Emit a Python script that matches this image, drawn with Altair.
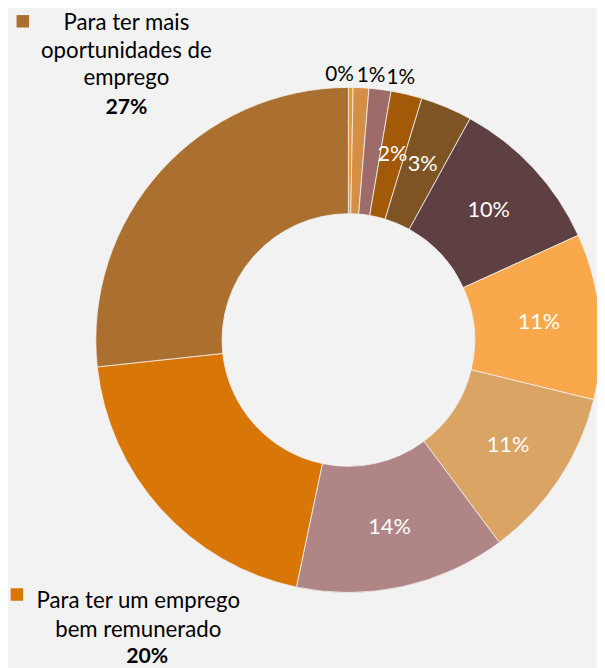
import altair as alt
import pandas as pd

# ---- data ----
slice_labels = ["0%", "1%", "1%", "2%", "3%", "10%", "11%", "11%", "14%", "20%", "27%"]
slice_values = [0.3, 1.0, 1.4, 2.0, 3.3, 10.2, 10.6, 11.0, 13.5, 20.0, 26.7]
slice_colors = ["#f7941d", "#d48e45", "#9e6b6b", "#a35a08", "#7f5424", "#5e4042",
                "#f9a84b", "#d9a464", "#b08585", "#d87707", "#ab7030"]
slice_order = list(range(len(slice_values)))

top_legend_lines = "Para ter mais\noportunidades de\nemprego"
top_legend_value = "27%"
bottom_legend_lines = "Para ter um emprego\nbem remunerado"
bottom_legend_value = "20%"

df = pd.DataFrame({
    "idx": slice_order,
    "value": slice_values,
    "label": slice_labels,
    "color": slice_colors,
})

FONT = "Lato"
CX, CY = 345, 332
BG = "#f2f2f2"

base = alt.Chart(df).encode(
    theta=alt.Theta("value:Q", stack=True),
    order=alt.Order("idx:Q"),
    x=alt.value(CX),
    y=alt.value(CY),
)

arc = base.mark_arc(outerRadius=256, innerRadius=128, stroke=BG, strokeWidth=0.8).encode(
    color=alt.Color("color:N", scale=None, legend=None)
)

inner_text = base.transform_calculate(
    lab="datum.idx >= 3 && datum.idx <= 8 ? datum.label : ''"
).mark_text(radius=194, font=FONT, fontSize=22, color="white", baseline="middle").encode(
    text="lab:N"
)

def outer_label(i, dx, dy):
    return base.transform_calculate(
        lab=f"datum.idx == {i} ? datum.label : ''"
    ).mark_text(radius=268, font=FONT, fontSize=21, color="black", baseline="middle",
                dx=dx, dy=dy).encode(text="lab:N")

outer0 = outer_label(0, -11.5, 0)
outer1 = outer_label(1, 9.5, 0)
outer2 = outer_label(2, 19.5, 0.5)

# legend-style callouts
one = alt.Chart(pd.DataFrame({"k": [0]}))

top_square = one.mark_square(size=160, color=slice_colors[10], opacity=1).encode(
    x=alt.value(15), y=alt.value(9))
top_text = one.mark_text(font=FONT, fontSize=22.5, align="center", baseline="middle",
                         lineHeight=28, lineBreak="\n", color="black").encode(
    x=alt.value(120), y=alt.value(11), text=alt.value(top_legend_lines))
top_val = one.mark_text(font=FONT, fontSize=21.5, fontWeight="bold", align="center",
                        baseline="middle", color="black").encode(
    x=alt.value(120), y=alt.value(97), text=alt.value(top_legend_value))

bot_square = one.mark_square(size=160, color=slice_colors[9], opacity=1).encode(
    x=alt.value(9), y=alt.value(590))
bot_text = one.mark_text(font=FONT, fontSize=22.5, align="center", baseline="middle",
                         lineHeight=29, lineBreak="\n", color="black").encode(
    x=alt.value(132), y=alt.value(597), text=alt.value(bottom_legend_lines))
bot_val = one.mark_text(font=FONT, fontSize=21.5, fontWeight="bold", align="center",
                        baseline="middle", color="black").encode(
    x=alt.value(141), y=alt.value(653), text=alt.value(bottom_legend_value))

chart = alt.layer(
    arc, inner_text, outer0, outer1, outer2,
    top_square, top_text, top_val, bot_square, bot_text, bot_val
).properties(
    width=597, height=660, autosize=alt.AutoSizeParams(type="none"), padding=0,
    background=BG
).configure_view(stroke=None)

chart.save("out.html", embed_options={"renderer": "svg", "actions": False})
